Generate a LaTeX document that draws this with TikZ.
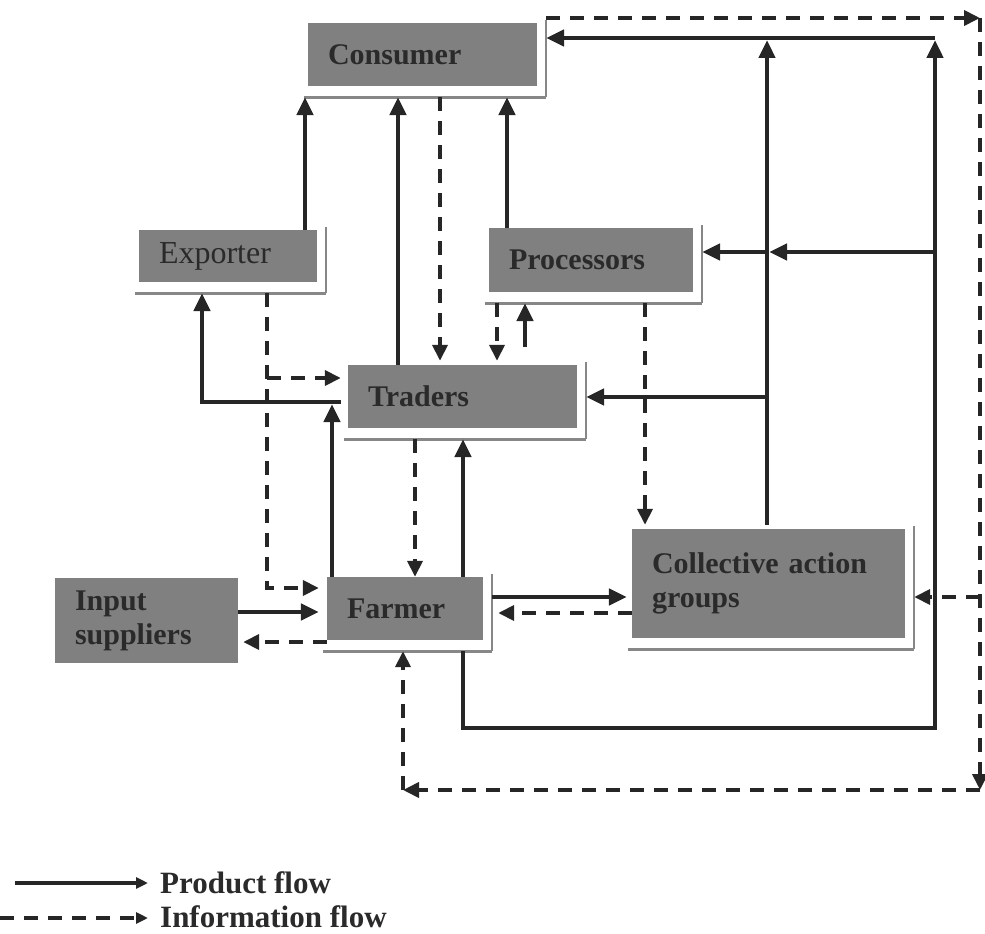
\documentclass[tikz,border=0pt]{standalone}
\usepackage{fontspec}
\setmainfont{Liberation Serif}
\usetikzlibrary{arrows.meta}
\definecolor{boxgray}{RGB}{128,128,128}
\definecolor{ink}{RGB}{38,38,38}
\definecolor{txt}{RGB}{42,42,42}
\definecolor{rim}{RGB}{135,135,135}

\begin{document}
\begin{tikzpicture}[x=1pt,y=-1pt,
  box/.style={rectangle, fill=boxgray, inner xsep=20pt, inner ysep=0pt,
    align=left, text=txt, font=\fontsize{30}{34}\selectfont\bfseries},
  rimbot/.style={draw=rim, line width=3pt},
  rimside/.style={draw=rim, line width=2pt},
  prod/.style={draw=ink, line width=4.5pt, -{Triangle[length=18pt,width=16pt]}},
  info/.style={draw=ink, line width=3.8pt, dash pattern=on 14pt off 10pt,
    -{Triangle[length=16pt,width=15pt]}},
  legtext/.style={anchor=base west, inner sep=0pt, text=txt,
    font=\fontsize{31}{34}\selectfont\bfseries}
]
\useasboundingbox (0,0) rectangle (985,934);

% boxes
\node[box, text width=189pt, minimum height=63pt] (con) at (422.5,54.5) {Consumer};
\node[box, text width=138pt, minimum height=52pt, font=\fontsize{32}{34}\selectfont] (exp) at (228,256) {Exporter};
\node[box, text width=164pt, minimum height=64pt] (pro) at (591,260) {Processors};
\node[box, text width=189pt, minimum height=63pt] (tra) at (462.5,396.5) {Traders};
\node[box, text width=116pt, minimum height=63pt] (far) at (405,608.5) {Farmer};
\node[box, text width=233pt, minimum height=109pt] (cag) at (768.5,583.5) {Collective action\\groups};
\node[box, text width=143pt, minimum height=85pt] (inp) at (146.5,620.5) {Input\\suppliers};

% raised rims below and right of the boxes
\foreach \n in {con,exp,pro,tra,far,cag} {
  \coordinate (\n-s) at ([shift={(0,11)}]\n.south);
  \coordinate (\n-e) at ([shift={(9,0)}]\n.east);
  \draw[rimbot] ([shift={(-4,11)}]\n.south west) -- ([shift={(9,11)}]\n.south east);
  \draw[rimside] ([shift={(9,-3)}]\n.north east) -- ([shift={(9,11)}]\n.south east);
}
\coordinate (tra-n) at ([shift={(0,-4)}]tra.north);
\coordinate (tra-w) at ([shift={(-7,0)}]tra.west);
\coordinate (far-w) at ([shift={(-8,0)}]far.west);
\coordinate (cag-n) at ([shift={(0,-4)}]cag.north);
\coordinate (cag-w) at ([shift={(-5,0)}]cag.west);
\coordinate (inp-e) at ([shift={(5,0)}]inp.east);
\coordinate (far-ee) at ([shift={(6,0)}]far-e);

% product flow
\draw[prod] (exp.north -| 305,0) -- (con-s -| 305,0);
\draw[prod] (tra.north -| 398,0) -- (con-s -| 398,0);
\draw[prod] (pro.north -| 507,0) -- (con-s -| 507,0);
\draw[prod] (far.north -| 463,0) -- (tra-s -| 463,0);
\draw[prod] (far.north -| 332,0) -- (332,404);
\draw[prod] (tra-w |- 0,402) -| (exp-s -| 202,0);
\draw[prod] (inp.east |- 0,612) -- (far-w |- 0,612);
\draw[prod] (far-e |- 0,597) -- (cag-w |- 0,597);
\draw[prod] (far-s -| 463,0) |- (935,728) -- (935,40);
\draw[prod] (935,38) -- (con-e |- 0,38);
\draw[prod] (cag-n -| 767,0) -- (767,40);
\draw[prod] (935,252) -- (769,252);
\draw[prod] (767,252) -- (pro-e |- 0,252);
\draw[prod] (767,397) -- (tra-e |- 0,397);
\draw[prod] (525,347) -- (pro-s -| 525,0);

% information flow
\draw[info] (con-s -| 440,0) -- (tra-n -| 440,0);
\draw[info] (con-e |- 0,18) -- (980,18);
\draw[info] (980,18) -- (980,790);
\draw[info] (980,790) -- (403,790);
\draw[info] (403,790) -- (far-s -| 403,0);
\draw[info] (980,597) -- (cag-e |- 0,597);
\draw[info] (exp-s -| 267,0) |- (far-w |- 0,588);
\draw[info] (267,378) -- (tra-w |- 0,378);
\draw[info] (tra-s -| 415,0) -- (far.north -| 415,0);
\draw[info] (pro-s -| 497,0) -- (tra-n -| 497,0);
\draw[info] (pro-s -| 645,0) -- (cag-n -| 645,0);
\draw[info] (cag.west |- 0,613) -- (far-ee |- 0,613);
\draw[info] (far.west |- 0,642) -- (inp-e |- 0,642);

% legend
\coordinate (lgPa) at (15,883);
\coordinate (lgPb) at (148,883);
\coordinate (lgIa) at (0,918);
\coordinate (lgIb) at (148,918);
\draw[prod, -{Triangle[length=12pt,width=11pt]}] (lgPa) -- (lgPb);
\draw[info, -{Triangle[length=12pt,width=11pt]}] (lgIa) -- (lgIb);
\node[legtext] (lgP) at (160,893) {Product flow};
\node[legtext] (lgI) at (160,927) {Information flow};
\end{tikzpicture}
\end{document}
